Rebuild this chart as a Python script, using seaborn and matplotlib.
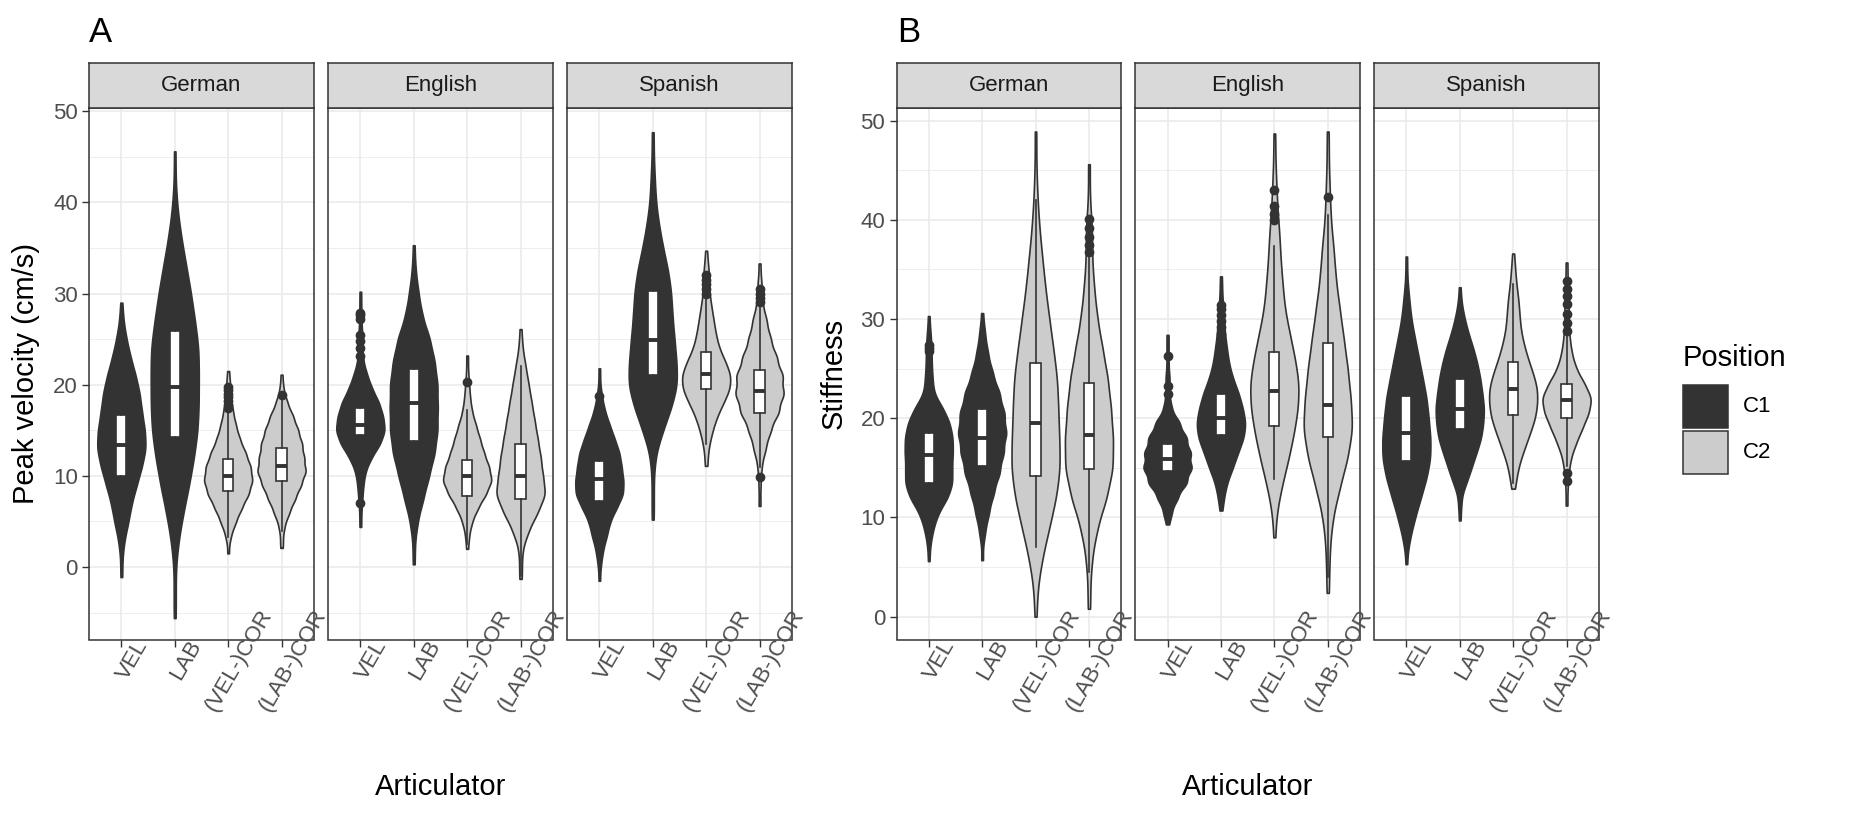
import numpy as np
import pandas as pd
import matplotlib
matplotlib.use("Agg")
import matplotlib.pyplot as plt
import seaborn as sns
from matplotlib.patches import Rectangle
from matplotlib.transforms import ScaledTranslation

# ---------------- data ----------------
categories = ["VEL", "LAB", "(VEL-)COR", "(LAB-)COR"]
positions_of_cat = ["C1", "C1", "C2", "C2"]
languages = ["German", "English", "Spanish"]
position_levels = ["C1", "C2"]
position_colors = ["#333333", "#CCCCCC"]

# ---- Panel A: Peak velocity (cm/s) ----
pv_german_vals = [
    [29.0, 27, 25, 23, 21, 19, 17, 15, 13, 11, 9, 7, 5, 3, 1, -1.1],
    [45.6, 42, 39, 36, 33, 30, 27, 24, 21, 18, 15, 12, 9, 6, 3, 0, -3, -5.6],
    [21.5, 20, 18.5, 17, 15.5, 14, 12.5, 11, 9.5, 8, 6.5, 5, 3.5, 1.5],
    [21.1, 19.5, 18, 16.5, 15, 13.5, 12, 10.5, 9, 7.5, 6, 4.5, 3, 2.1],
]
pv_german_cnts = [
    [1, 2, 5, 9, 14, 18, 20, 23, 24, 20, 15, 10, 7, 3, 1, 1],
    [1, 1, 3, 7, 12, 17, 21, 25, 25, 25, 24, 20, 15, 9, 4, 1, 1, 1],
    [1, 2, 3, 5, 8, 12, 18, 23, 25, 21, 14, 8, 3, 1],
    [1, 2, 6, 12, 17, 21, 23, 25, 20, 14, 8, 3, 1, 1],
]
pv_english_vals = [
    [30.2, 28.5, 27, 25.5, 24, 22.5, 21, 19.5, 18, 16.5, 15, 13.5, 12, 10.5, 9, 7.5, 6, 4.4],
    [35.3, 32.5, 30, 27.5, 25, 22.5, 20, 17.5, 15, 12.5, 10, 7.5, 5, 2.5, 0.3],
    [23.2, 21.5, 20, 18.5, 17, 15.5, 14, 12.5, 11, 9.5, 8, 6.5, 5, 3.5, 2.0],
    [26.1, 24, 22, 20, 18, 16, 14, 12, 10, 8, 6, 4, 2, 0, -1.3],
]
pv_english_cnts = [
    [1, 1, 1, 2, 2, 3, 7, 12, 19, 23, 25, 20, 11, 5, 3, 2, 1, 1],
    [1, 2, 5, 9, 17, 22, 25, 25, 25, 22, 16, 10, 4, 1, 1],
    [1, 1, 2, 3, 5, 9, 13, 17, 22, 25, 19, 11, 5, 2, 1],
    [1, 2, 5, 8, 11, 14, 17, 20, 22, 25, 17, 8, 2, 1, 1],
]
pv_spanish_vals = [
    [21.8, 20, 18.5, 17, 15.5, 14, 12.5, 11, 9.5, 8, 6.5, 5, 3.5, 2, 0.5, -1.5],
    [47.7, 45, 42.5, 40, 37.5, 35, 32.5, 30, 27.5, 25, 22.5, 20, 17.5, 15, 12.5, 10, 7.5, 5.2],
    [34.7, 33, 31.5, 30, 28.5, 27, 25.5, 24, 22.5, 21, 19.5, 18, 16.5, 15, 13.5, 12, 11.1],
    [33.3, 31, 29, 27, 25, 23, 21, 19, 17, 15, 13, 11, 9, 6.7],
]
pv_spanish_cnts = [
    [1, 1, 3, 6, 11, 16, 21, 23, 25, 25, 18, 11, 8, 4, 2, 1],
    [1, 1, 2, 3, 6, 10, 15, 18, 19, 21, 23, 24, 18, 10, 3, 1, 1, 1],
    [1, 2, 3, 3, 5, 7, 9, 12, 18, 23, 22, 16, 10, 6, 3, 1, 1],
    [1, 2, 3, 7, 11, 17, 23, 24, 19, 11, 6, 2, 1, 1],
]
# box statistics (VEL, LAB, (VEL-)COR, (LAB-)COR)
pv_german_q1 = [10.0, 14.3, 8.3, 9.4]
pv_german_med = [13.4, 19.8, 10.0, 11.1]
pv_german_q3 = [16.7, 25.9, 11.8, 13.1]
pv_german_lo = [0.5, -5.0, 3.3, 4.0]
pv_german_hi = [26.5, 42.0, 17.0, 18.4]
pv_german_out = [[], [], [17.4, 17.8, 18.2, 18.6, 19.0, 19.4, 19.7], [18.9]]
pv_english_q1 = [14.5, 13.8, 7.8, 7.5]
pv_english_med = [15.6, 18.0, 10.0, 10.0]
pv_english_q3 = [17.4, 21.7, 11.7, 13.5]
pv_english_lo = [10.5, 2.0, 2.5, -1.0]
pv_english_hi = [21.6, 33.0, 17.2, 22.0]
pv_english_out = [[23.2, 24.0, 24.8, 25.4, 27.2, 27.6, 27.9, 7.0], [], [20.3], []]
pv_spanish_q1 = [7.2, 21.1, 19.5, 16.9]
pv_spanish_med = [9.7, 24.9, 21.2, 19.3]
pv_spanish_q3 = [11.6, 30.3, 23.6, 21.6]
pv_spanish_lo = [0.8, 8.0, 13.5, 11.0]
pv_spanish_hi = [17.5, 43.0, 29.5, 28.5]
pv_spanish_out = [[18.8], [], [30.0, 30.5, 31.0, 31.5, 32.0], [29.1, 29.5, 30.0, 30.5, 9.9]]

# ---- Panel B: Stiffness ----
st_german_vals = [
    [30.3, 28.5, 27, 25.5, 24, 22.5, 21, 19.5, 18, 16.5, 15, 13.5, 12, 10.5, 9, 7.5, 5.6],
    [30.6, 28.5, 26.5, 24.5, 22.5, 20.5, 18.5, 16.5, 14.5, 12.5, 10.5, 8.5, 5.7],
    [48.9, 45, 42, 39, 36, 33, 30, 27, 24, 21, 18, 15, 12, 9, 6, 3, 0],
    [45.6, 42, 39, 36, 33, 30, 27, 24, 21, 18, 15, 12, 9, 6, 3, 0.8],
]
st_german_cnts = [
    [1, 2, 3, 3, 4, 5, 15, 22, 25, 25, 24, 25, 20, 10, 5, 2, 1],
    [1, 3, 6, 11, 18, 23, 25, 22, 18, 12, 7, 3, 1],
    [1, 1, 2, 4, 7, 10, 14, 18, 22, 23, 24, 25, 21, 14, 7, 2, 1],
    [1, 1, 3, 3, 5, 8, 13, 18, 21, 23, 23, 17, 8, 3, 1, 1],
]
st_english_vals = [
    [28.4, 27, 25.5, 24, 22.5, 21, 19.5, 18, 16.5, 15, 13.5, 12, 10.5, 9.3],
    [34.3, 33, 31.5, 30, 28.5, 27, 25.5, 24, 22.5, 21, 19.5, 18, 16.5, 15, 13.5, 12, 10.7],
    [48.7, 46, 43.5, 41, 38.5, 36, 33.5, 31, 28.5, 26, 23.5, 21, 18.5, 16, 13.5, 11, 8.0],
    [48.9, 46, 43, 40, 37, 34, 31, 28, 25, 22, 19, 16, 13, 10, 7, 4.5, 2.4],
]
st_english_cnts = [
    [1, 1, 1, 2, 2, 4, 12, 19, 23, 24, 19, 10, 4, 1],
    [1, 1, 2, 3, 4, 6, 8, 12, 18, 22, 25, 23, 17, 12, 6, 3, 1],
    [1, 1, 2, 3, 5, 6, 8, 10, 15, 20, 24, 23, 19, 14, 8, 3, 1],
    [1, 1, 2, 3, 6, 8, 12, 16, 20, 23, 25, 20, 12, 5, 2, 1, 1],
]
st_spanish_vals = [
    [36.3, 34, 32, 30, 28, 26, 24, 22, 20, 18, 16, 14, 12, 10, 8, 5.3],
    [33.2, 31.5, 30, 28.5, 27, 25.5, 24, 22.5, 21, 19.5, 18, 16.5, 15, 13.5, 11.5, 9.7],
    [36.6, 35, 33.5, 32, 30.5, 29, 27.5, 26, 24.5, 23, 21.5, 20, 18.5, 17, 15.5, 14, 12.9],
    [35.7, 34, 32.5, 31, 29.5, 28, 26.5, 25, 23.5, 22, 20.5, 19, 17.5, 16, 14.5, 13, 11.2],
]
st_spanish_cnts = [
    [1, 1, 3, 5, 9, 13, 17, 21, 23, 25, 25, 21, 15, 9, 4, 1],
    [1, 2, 5, 9, 14, 18, 21, 23, 25, 24, 22, 17, 12, 7, 2, 1],
    [1, 2, 3, 5, 6, 7, 10, 14, 19, 23, 23, 21, 16, 11, 6, 3, 1],
    [1, 1, 2, 2, 2, 3, 5, 9, 17, 24, 21, 15, 9, 4, 2, 1, 1],
]
st_german_q1 = [13.5, 15.2, 14.2, 14.9]
st_german_med = [16.3, 18.0, 19.5, 18.3]
st_german_q3 = [18.5, 20.9, 25.6, 23.6]
st_german_lo = [7.5, 7.0, 7.0, 4.5]
st_german_hi = [25.5, 29.0, 42.0, 36.4]
st_german_out = [[26.8, 27.1, 27.4], [], [], [36.8, 37.5, 38.3, 39.2, 40.1]]
st_english_q1 = [14.7, 18.3, 19.2, 18.1]
st_english_med = [15.9, 20.0, 22.7, 21.3]
st_english_q3 = [17.4, 22.4, 26.7, 27.6]
st_english_lo = [10.5, 12.5, 13.9, 4.0]
st_english_hi = [21.0, 28.0, 37.4, 40.5]
st_english_out = [[22.4, 23.3, 26.3], [28.5, 29.2, 29.8, 30.4, 31.0, 31.4], [40.0, 40.6, 41.4, 43.0], [42.3]]
st_spanish_q1 = [15.7, 18.9, 20.3, 20.0]
st_spanish_med = [18.5, 20.9, 22.9, 21.8]
st_spanish_q3 = [22.2, 24.0, 25.7, 23.5]
st_spanish_lo = [6.0, 11.5, 13.5, 15.2]
st_spanish_hi = [32.0, 31.5, 33.5, 28.5]
st_spanish_out = [[], [], [], [28.8, 29.6, 30.5, 31.5, 32.3, 33.0, 33.8, 13.7, 14.5]]

panel_tags = ["A", "B"]
y_titles = ["Peak velocity (cm/s)", "Stiffness"]
x_title = "Articulator"
legend_title = "Position"

panels = [
    dict(vals=[pv_german_vals, pv_english_vals, pv_spanish_vals],
         cnts=[pv_german_cnts, pv_english_cnts, pv_spanish_cnts],
         q1=[pv_german_q1, pv_english_q1, pv_spanish_q1],
         med=[pv_german_med, pv_english_med, pv_spanish_med],
         q3=[pv_german_q3, pv_english_q3, pv_spanish_q3],
         lo=[pv_german_lo, pv_english_lo, pv_spanish_lo],
         hi=[pv_german_hi, pv_english_hi, pv_spanish_hi],
         out=[pv_german_out, pv_english_out, pv_spanish_out],
         ylim=(-7.95, 50.39), major=[0, 10, 20, 30, 40, 50],
         minor=[-5, 5, 15, 25, 35, 45]),
    dict(vals=[st_german_vals, st_english_vals, st_spanish_vals],
         cnts=[st_german_cnts, st_english_cnts, st_spanish_cnts],
         q1=[st_german_q1, st_english_q1, st_spanish_q1],
         med=[st_german_med, st_english_med, st_spanish_med],
         q3=[st_german_q3, st_english_q3, st_spanish_q3],
         lo=[st_german_lo, st_english_lo, st_spanish_lo],
         hi=[st_german_hi, st_english_hi, st_spanish_hi],
         out=[st_german_out, st_english_out, st_spanish_out],
         ylim=(-2.30, 51.3), major=[0, 10, 20, 30, 40, 50],
         minor=[5, 15, 25, 35, 45]),
]

# ---------------- style / layout ----------------
plt.rcParams["font.family"] = ["Liberation Sans", "DejaVu Sans"]
SMALL = 16
TITLE = 21
TAG = 25
DARK = "#333333"

W, H = 1856, 818
fig = plt.figure(figsize=(W / 100, H / 100), dpi=100)
fig.patch.set_facecolor("white")


def fx(px):
    return px / W


def fy(py):
    return 1 - py / H


panel_top, panel_bot, strip_top = 107.7, 639.5, 62.6
facet_left = [[89.3, 328.3, 567.3], [896.7, 1135.5, 1374.3]]
facet_w = 224.3
palette = dict(zip(position_levels, position_colors))

for p, P in enumerate(panels):
    for j, lang in enumerate(languages):
        x0 = facet_left[p][j]
        ax = fig.add_axes([fx(x0), fy(panel_bot), facet_w / W, (panel_bot - panel_top) / H])
        sax = fig.add_axes([fx(x0), fy(panel_top), facet_w / W, (panel_top - strip_top) / H])

        rows = []
        for k, cat in enumerate(categories):
            obs = np.repeat(np.array(P["vals"][j][k], float), P["cnts"][j][k])
            rows.append(pd.DataFrame({"Articulator": cat, "value": obs,
                                      "Position": positions_of_cat[k]}))
        df = pd.concat(rows, ignore_index=True)

        sns.violinplot(data=df, x="Articulator", y="value", hue="Position",
                       order=categories, hue_order=position_levels, palette=palette,
                       saturation=1, dodge=False, density_norm="width", cut=0,
                       inner=None, width=0.9, linewidth=1.2, linecolor=DARK,
                       bw_method=0.21, gridsize=250, legend=False, ax=ax)

        stats = []
        for k in range(4):
            stats.append(dict(q1=P["q1"][j][k], med=P["med"][j][k], q3=P["q3"][j][k],
                              whislo=P["lo"][j][k], whishi=P["hi"][j][k],
                              fliers=P["out"][j][k]))
        ax.bxp(stats, positions=list(range(4)), widths=0.19, patch_artist=True,
               showcaps=False, manage_ticks=False, zorder=3,
               boxprops=dict(facecolor="white", edgecolor=DARK, linewidth=1.2),
               medianprops=dict(color=DARK, linewidth=2.8, solid_capstyle="butt"),
               whiskerprops=dict(color=DARK, linewidth=1.2),
               flierprops=dict(marker="o", markerfacecolor=DARK, markeredgecolor=DARK,
                               markersize=6, linestyle="none"))

        ax.set_xlim(-0.6, 3.6)
        ax.set_ylim(*P["ylim"])
        ax.set_xlabel("")
        ax.set_ylabel("")
        ax.set_facecolor("white")
        ax.set_axisbelow(True)
        ax.set_yticks(P["major"])
        ax.set_yticks(P["minor"], minor=True)
        ax.set_xticks(range(4))
        ax.set_xticklabels([])
        ax.grid(True, which="major", axis="both", color="#EBEBEB", linewidth=1.2, zorder=0)
        ax.grid(True, which="minor", axis="y", color="#EBEBEB", linewidth=0.6, zorder=0)
        for s in ax.spines.values():
            s.set_color(DARK)
            s.set_linewidth(1.1)
        ax.tick_params(axis="both", which="major", length=4.8, width=1.0, color=DARK,
                       labelsize=SMALL, labelcolor="#4D4D4D", pad=3.5)
        ax.tick_params(axis="y", which="minor", length=0)
        if j > 0:
            ax.tick_params(axis="y", which="both", left=False, labelleft=False)
        else:
            ax.set_yticklabels([str(v) for v in P["major"]])

        off = ScaledTranslation(11 / 100, -20.5 / 100, fig.dpi_scale_trans)
        for k, cat in enumerate(categories):
            ax.text(k, 0, cat, transform=ax.get_xaxis_transform() + off,
                    rotation=60, rotation_mode="anchor", ha="center", va="center",
                    fontsize=SMALL, color="#4D4D4D", clip_on=False)

        sax.set_facecolor("#D9D9D9")
        sax.set_xticks([])
        sax.set_yticks([])
        for s in sax.spines.values():
            s.set_color(DARK)
            s.set_linewidth(1.1)
        sax.text(0.5, 0.5, lang, transform=sax.transAxes, ha="center", va="center",
                 fontsize=SMALL, color="#1A1A1A")

    # panel tag, titles
    left = facet_left[p][0]
    right = facet_left[p][2] + facet_w
    fig.text(fx(left), fy(41.7), panel_tags[p], fontsize=TAG, ha="left", va="baseline",
             color="black")
    fig.text(fx((left + right) / 2), fy(787), x_title, fontsize=TITLE, ha="center",
             va="center", color="black")
y_title_x = [26, 834]
for p in range(2):
    fig.text(fx(y_title_x[p]), fy((panel_top + panel_bot) / 2), y_titles[p], rotation=90,
             fontsize=TITLE, ha="center", va="center", color="black")

# legend
fig.text(fx(1683), fy(366), legend_title, fontsize=TITLE, ha="left", va="baseline")
key_tops = [385.0, 431.0]
for i, lev in enumerate(position_levels):
    fig.add_artist(Rectangle((fx(1683.3), fy(key_tops[i] + 43.3)), 44.4 / W, 43.3 / H,
                             transform=fig.transFigure, facecolor=position_colors[i],
                             edgecolor=DARK, linewidth=1.1))
    fig.text(fx(1743), fy(key_tops[i] + 22), lev, fontsize=SMALL, ha="left", va="center")

fig.savefig("out.png", dpi=100)
